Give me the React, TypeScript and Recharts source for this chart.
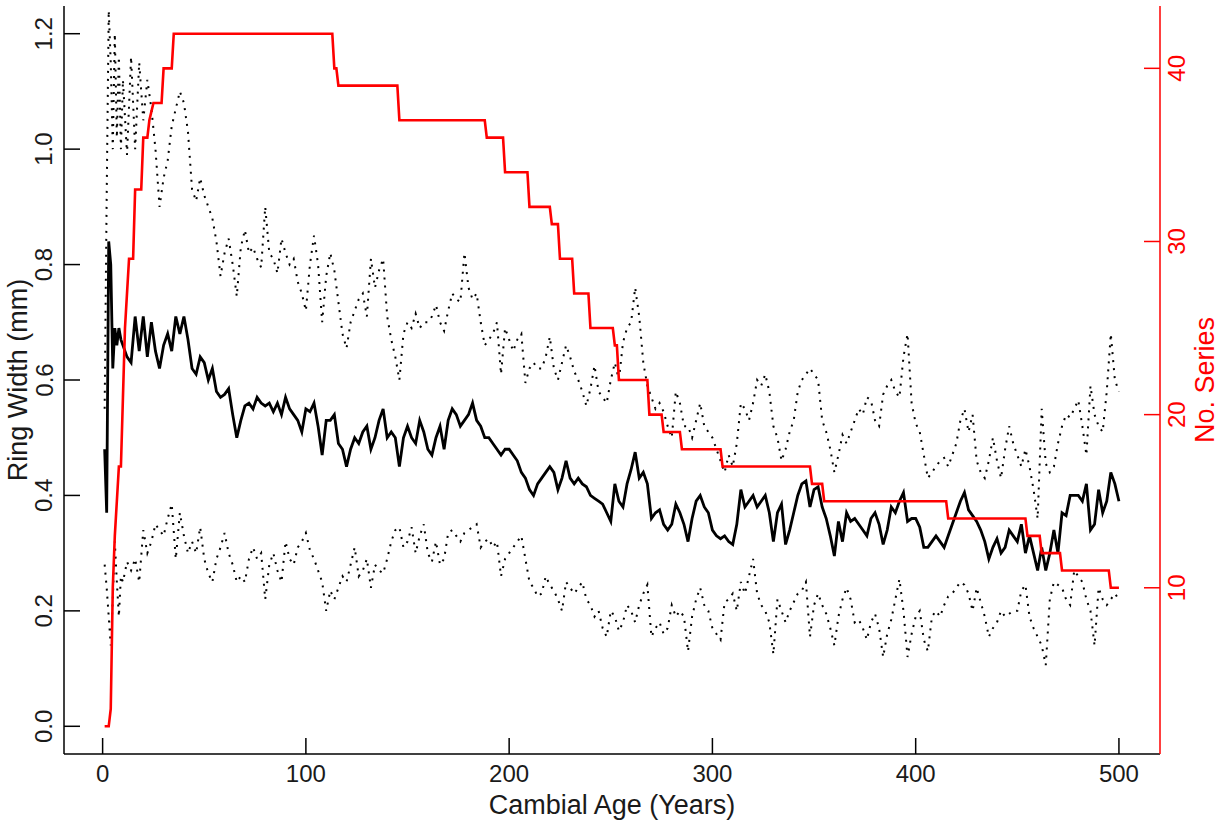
import { LineChart, Line, XAxis, YAxis } from 'recharts';

const ages = [
  1, 2, 3, 4, 5, 6, 7, 8, 9, 10,
  12, 14, 16, 18, 20, 22, 24, 26, 28, 30,
  32, 34, 36, 38, 40, 42, 44, 46, 48, 50,
  52, 54, 56, 58, 60, 62, 64, 66, 68, 70,
  72, 74, 76, 78, 80, 82, 84, 86, 88, 90,
  92, 94, 96, 98, 100, 102, 104, 106, 108, 110,
  112, 114, 116, 118, 120, 122, 124, 126, 128, 130,
  132, 134, 136, 138, 140, 142, 144, 146, 148, 150,
  152, 154, 156, 158, 160, 162, 164, 166, 168, 170,
  172, 174, 176, 178, 180, 182, 184, 186, 188, 190,
  192, 194, 196, 198, 200, 202, 204, 206, 208, 210,
  212, 214, 216, 218, 220, 222, 224, 226, 228, 230,
  232, 234, 236, 238, 240, 242, 244, 246, 248, 250,
  252, 254, 256, 258, 260, 262, 264, 266, 268, 270,
  272, 274, 276, 278, 280, 282, 284, 286, 288, 290,
  292, 294, 296, 298, 300, 302, 304, 306, 308, 310,
  312, 314, 316, 318, 320, 322, 324, 326, 328, 330,
  332, 334, 336, 338, 340, 342, 344, 346, 348, 350,
  352, 354, 356, 358, 360, 362, 364, 366, 368, 370,
  372, 374, 376, 378, 380, 382, 384, 386, 388, 390,
  392, 394, 396, 398, 400, 402, 404, 406, 408, 410,
  412, 414, 416, 418, 420, 422, 424, 426, 428, 430,
  432, 434, 436, 438, 440, 442, 444, 446, 448, 450,
  452, 454, 456, 458, 460, 462, 464, 466, 468, 470,
  472, 474, 476, 478, 480, 482, 484, 486, 488, 490,
  492, 494, 496, 498, 500,
];

// mean ring width (mm)
const meanWidth = [
  0.48, 0.37, 0.84, 0.80, 0.62, 0.69, 0.66, 0.69, 0.67, 0.66,
  0.64, 0.63, 0.71, 0.65, 0.71, 0.64, 0.70, 0.65, 0.62, 0.66,
  0.68, 0.65, 0.71, 0.68, 0.71, 0.67, 0.62, 0.61, 0.64, 0.63,
  0.60, 0.62, 0.58, 0.57, 0.575, 0.585, 0.54, 0.50, 0.53, 0.555,
  0.56, 0.55, 0.57, 0.56, 0.555, 0.56, 0.545, 0.56, 0.54, 0.57,
  0.55, 0.54, 0.53, 0.51, 0.55, 0.545, 0.56, 0.52, 0.47, 0.53,
  0.53, 0.54, 0.49, 0.48, 0.45, 0.48, 0.50, 0.49, 0.51, 0.52,
  0.48, 0.50, 0.53, 0.55, 0.50, 0.51, 0.50, 0.45, 0.50, 0.52,
  0.50, 0.49, 0.53, 0.51, 0.48, 0.47, 0.50, 0.52, 0.48, 0.53,
  0.55, 0.54, 0.52, 0.53, 0.54, 0.56, 0.53, 0.52, 0.50, 0.50,
  0.49, 0.48, 0.47, 0.48, 0.48, 0.47, 0.46, 0.44, 0.43, 0.41,
  0.40, 0.42, 0.43, 0.44, 0.45, 0.44, 0.41, 0.43, 0.46, 0.43,
  0.42, 0.43, 0.42, 0.415, 0.40, 0.395, 0.39, 0.385, 0.37, 0.355,
  0.42, 0.39, 0.38, 0.42, 0.445, 0.475, 0.43, 0.44, 0.42, 0.36,
  0.37, 0.375, 0.35, 0.34, 0.35, 0.385, 0.37, 0.35, 0.32, 0.36,
  0.39, 0.40, 0.38, 0.37, 0.34, 0.33, 0.325, 0.33, 0.32, 0.315,
  0.35, 0.41, 0.38, 0.39, 0.40, 0.38, 0.39, 0.40, 0.37, 0.32,
  0.37, 0.385, 0.315, 0.34, 0.37, 0.40, 0.42, 0.425, 0.38, 0.41,
  0.415, 0.38, 0.36, 0.33, 0.295, 0.355, 0.32, 0.37, 0.355, 0.36,
  0.35, 0.34, 0.33, 0.36, 0.37, 0.35, 0.315, 0.34, 0.38, 0.37,
  0.39, 0.405, 0.355, 0.36, 0.36, 0.345, 0.31, 0.31, 0.32, 0.33,
  0.32, 0.31, 0.33, 0.35, 0.37, 0.39, 0.405, 0.375, 0.365, 0.355,
  0.34, 0.32, 0.29, 0.31, 0.325, 0.30, 0.31, 0.34, 0.33, 0.32,
  0.35, 0.30, 0.33, 0.30, 0.27, 0.31, 0.27, 0.30, 0.34, 0.30,
  0.37, 0.365, 0.40, 0.40, 0.40, 0.39, 0.42, 0.34, 0.35, 0.41,
  0.37, 0.39, 0.44, 0.42, 0.39,
];

// upper dotted band (mm)
const upperWidth = [
  0.55, 0.92, 1.24, 1.15, 1.00, 1.20, 1.02, 1.16, 1.00, 1.12,
  0.99, 1.16, 1.00, 1.15, 1.05, 1.12, 1.07, 1.00, 0.90, 0.95,
  0.98, 1.04, 1.07, 1.10, 1.08, 1.03, 0.93, 0.91, 0.95, 0.92,
  0.90, 0.88, 0.84, 0.78, 0.82, 0.845, 0.80, 0.745, 0.83, 0.86,
  0.82, 0.83, 0.81, 0.795, 0.90, 0.82, 0.81, 0.785, 0.845, 0.82,
  0.80, 0.81, 0.77, 0.75, 0.72, 0.80, 0.85, 0.80, 0.70, 0.78,
  0.82, 0.79, 0.735, 0.68, 0.655, 0.70, 0.72, 0.74, 0.75, 0.71,
  0.81, 0.76, 0.79, 0.81, 0.71, 0.67, 0.64, 0.60, 0.68, 0.70,
  0.69, 0.715, 0.69, 0.70, 0.70, 0.71, 0.73, 0.70, 0.685, 0.72,
  0.75, 0.74, 0.735, 0.82, 0.76, 0.74, 0.75, 0.70, 0.66, 0.67,
  0.68, 0.70, 0.61, 0.69, 0.67, 0.65, 0.67, 0.68, 0.595, 0.62,
  0.63, 0.62, 0.62, 0.64, 0.675, 0.62, 0.60, 0.63, 0.66, 0.64,
  0.615, 0.60, 0.58, 0.555, 0.585, 0.625, 0.58, 0.57, 0.56, 0.60,
  0.63, 0.60, 0.665, 0.69, 0.70, 0.76, 0.71, 0.63, 0.59, 0.57,
  0.55, 0.56, 0.545, 0.52, 0.50, 0.58, 0.56, 0.52, 0.52, 0.50,
  0.53, 0.56, 0.52, 0.51, 0.50, 0.48, 0.46, 0.44, 0.47, 0.45,
  0.49, 0.56, 0.55, 0.53, 0.56, 0.60, 0.59, 0.61, 0.58, 0.52,
  0.50, 0.46, 0.48, 0.51, 0.53, 0.58, 0.60, 0.61, 0.62, 0.61,
  0.60, 0.53, 0.51, 0.48, 0.44, 0.47, 0.505, 0.49, 0.51, 0.53,
  0.55, 0.54, 0.57, 0.565, 0.53, 0.52, 0.575, 0.59, 0.60, 0.58,
  0.57, 0.64, 0.68, 0.56, 0.525, 0.51, 0.47, 0.43, 0.44, 0.45,
  0.46, 0.465, 0.45, 0.47, 0.49, 0.53, 0.55, 0.51, 0.54, 0.46,
  0.44, 0.43, 0.46, 0.50, 0.46, 0.43, 0.48, 0.52, 0.49, 0.47,
  0.45, 0.48, 0.45, 0.41, 0.36, 0.55, 0.455, 0.44, 0.45, 0.49,
  0.52, 0.54, 0.535, 0.55, 0.565, 0.52, 0.47, 0.59, 0.54, 0.52,
  0.51, 0.58, 0.68, 0.60, 0.58,
];

// lower dotted band (mm)
const lowerWidth = [
  0.28, 0.24, 0.19, 0.14, 0.22, 0.32, 0.25, 0.19, 0.26, 0.25,
  0.285, 0.27, 0.29, 0.25, 0.34, 0.30, 0.32, 0.35, 0.34, 0.33,
  0.36, 0.385, 0.29, 0.37, 0.33, 0.30, 0.32, 0.30, 0.345, 0.29,
  0.265, 0.25, 0.29, 0.31, 0.335, 0.30, 0.28, 0.25, 0.26, 0.25,
  0.29, 0.31, 0.29, 0.30, 0.22, 0.28, 0.30, 0.27, 0.25, 0.32,
  0.29, 0.28, 0.31, 0.32, 0.335, 0.305, 0.29, 0.27, 0.25, 0.20,
  0.235, 0.22, 0.24, 0.26, 0.25, 0.28, 0.31, 0.26, 0.27, 0.29,
  0.24, 0.28, 0.27, 0.265, 0.29, 0.32, 0.34, 0.345, 0.31, 0.32,
  0.345, 0.30, 0.33, 0.35, 0.30, 0.285, 0.32, 0.28, 0.29, 0.335,
  0.34, 0.33, 0.32, 0.335, 0.34, 0.345, 0.35, 0.31, 0.32, 0.325,
  0.31, 0.32, 0.26, 0.29, 0.30, 0.31, 0.32, 0.33, 0.29, 0.25,
  0.24, 0.225, 0.23, 0.26, 0.245, 0.235, 0.22, 0.20, 0.25, 0.24,
  0.23, 0.24, 0.25, 0.22, 0.21, 0.19, 0.20, 0.17, 0.155, 0.20,
  0.19, 0.165, 0.18, 0.21, 0.20, 0.18, 0.21, 0.23, 0.245, 0.155,
  0.17, 0.18, 0.16, 0.17, 0.21, 0.19, 0.20, 0.19, 0.13, 0.19,
  0.22, 0.24, 0.21, 0.20, 0.17, 0.16, 0.15, 0.215, 0.22, 0.23,
  0.20, 0.25, 0.23, 0.26, 0.29, 0.23, 0.21, 0.20, 0.18, 0.125,
  0.22, 0.20, 0.18, 0.20, 0.215, 0.23, 0.235, 0.25, 0.155, 0.21,
  0.23, 0.21, 0.195, 0.17, 0.14, 0.19, 0.22, 0.24, 0.22, 0.18,
  0.185, 0.17, 0.15, 0.18, 0.195, 0.17, 0.12, 0.16, 0.185, 0.22,
  0.255, 0.20, 0.12, 0.16, 0.19, 0.20, 0.15, 0.13, 0.19, 0.20,
  0.19, 0.21, 0.225, 0.23, 0.24, 0.25, 0.245, 0.23, 0.20, 0.24,
  0.215, 0.19, 0.155, 0.17, 0.18, 0.20, 0.19, 0.195, 0.20, 0.20,
  0.235, 0.245, 0.19, 0.17, 0.155, 0.14, 0.106, 0.22, 0.25, 0.245,
  0.24, 0.22, 0.21, 0.27, 0.26, 0.25, 0.22, 0.20, 0.14, 0.24,
  0.22, 0.21, 0.22, 0.23, 0.22,
];

// sample depth: vertices of the red line (age, no. of series)
const depthAges = [
  1, 3, 4, 5, 6, 7, 8, 9, 10, 11, 12, 13, 15, 16, 19, 20, 22, 23, 25, 29,
  30, 34, 35, 113, 114, 115, 116, 145, 146, 188, 189, 197, 198, 209, 210, 220,
  221, 224, 225, 231, 232, 239, 240, 251, 252, 253, 254, 268, 269, 275, 276,
  284, 285, 304, 305, 348, 349, 354, 355, 415, 416, 454, 455, 461, 462, 471,
  472, 495, 496, 500,
];
const depthCounts = [
  2, 2, 3, 10, 13, 15, 17, 17, 21, 25, 27, 29, 29, 33, 33, 36, 36, 37, 38, 38,
  40, 40, 42, 42, 40, 40, 39, 39, 37, 37, 36, 36, 34, 34, 32, 32,
  31, 31, 29, 29, 27, 27, 25, 25, 24, 24, 22, 22, 20, 20, 19,
  19, 18, 18, 17, 17, 16, 16, 15, 15, 14, 14, 13, 13, 12, 12,
  11, 11, 10, 10,
];

const ageTicks = [0, 100, 200, 300, 400, 500];
const widthTicks = [0, 0.2, 0.4, 0.6, 0.8, 1.0, 1.2];
const countTicks = [10, 20, 30, 40];

const rows = ages.map((age, i) => ({
  age,
  mean: meanWidth[i],
  upper: upperWidth[i],
  lower: lowerWidth[i],
}));
const depthRows = depthAges.map((age, i) => ({ age, n: depthCounts[i] }));

const W = 1221;
const H = 821;
const LEFT = 64;
const RIGHT = 1160;
const TOP = 6;
const BOTTOM = 754;
const TICK = 16;
const RED = '#ff0000';
const INK = '#1a1a1a';
const FONT = '"Liberation Sans", Arial, Helvetica, sans-serif';
const TICK_FS = 24;
const TITLE_FS = 27;

function BottomTick({ x, payload }: any) {
  return (
    <g>
      <line x1={x} x2={x} y1={BOTTOM} y2={BOTTOM - TICK} stroke="#000" strokeWidth={1.5} />
      <text x={x} y={BOTTOM + 19} textAnchor="middle" dominantBaseline="central"
        fontSize={TICK_FS} fontFamily={FONT} fill={INK}>{payload.value}</text>
    </g>
  );
}

function LeftTick({ y, payload }: any) {
  const tx = 44;
  return (
    <g>
      <line x1={LEFT} x2={LEFT + TICK} y1={y} y2={y} stroke="#000" strokeWidth={1.5} />
      <text x={tx} y={y} transform={`rotate(-90 ${tx} ${y})`} textAnchor="middle"
        dominantBaseline="central" fontSize={TICK_FS} fontFamily={FONT} fill={INK}>
        {Number(payload.value).toFixed(1)}
      </text>
    </g>
  );
}

function RightTick({ y, payload }: any) {
  const tx = 1177;
  return (
    <g>
      <line x1={RIGHT - TICK} x2={RIGHT} y1={y} y2={y} stroke={RED} strokeWidth={1.5} />
      <text x={tx} y={y} transform={`rotate(-90 ${tx} ${y})`} textAnchor="middle"
        dominantBaseline="central" fontSize={TICK_FS} fontFamily={FONT} fill={RED}>
        {payload.value}
      </text>
    </g>
  );
}

function Title({ x, y, angle = 0, color = INK, text }: any) {
  return (
    <text x={x} y={y} transform={angle ? `rotate(${angle} ${x} ${y})` : undefined}
      textAnchor="middle" dominantBaseline="central" fontSize={TITLE_FS} fontFamily={FONT} fill={color}>
      {text}
    </text>
  );
}

export default function App() {
  const midY = (TOP + BOTTOM) / 2;
  return (
    <div style={{ position: 'absolute', left: 0, top: 0, width: W, height: H, background: '#fff' }}>
      <LineChart width={W} height={H} data={rows} margin={{ top: TOP, right: 0, bottom: 0, left: 0 }}>
        <XAxis
          dataKey="age"
          type="number"
          domain={[-19, 520.2]}
          allowDataOverflow
          ticks={ageTicks}
          interval={0}
          height={H - BOTTOM}
          tickLine={false}
          tickSize={0}
          axisLine={{ stroke: '#000', strokeWidth: 1.5 }}
          tick={<BottomTick />}
          label={() => <Title x={(LEFT + RIGHT) / 2} y={BOTTOM + 51} text="Cambial Age (Years)" />}
        />
        <XAxis
          xAxisId="top"
          orientation="top"
          dataKey="age"
          type="number"
          domain={[-19, 520.2]}
          allowDataOverflow
          height={0}
          tick={false}
          tickLine={false}
          axisLine={{ stroke: '#000', strokeWidth: 1.5 }}
        />
        <YAxis
          yAxisId="left"
          domain={[-0.048, 1.248]}
          allowDataOverflow
          ticks={widthTicks}
          interval={0}
          width={LEFT}
          tickLine={false}
          tickSize={0}
          axisLine={{ stroke: '#000', strokeWidth: 1.5 }}
          tick={<LeftTick />}
          label={() => <Title x={18} y={midY} angle={-90} text="Ring Width (mm)" />}
        />
        <YAxis
          yAxisId="right"
          orientation="right"
          domain={[0.4, 43.6]}
          allowDataOverflow
          ticks={countTicks}
          interval={0}
          width={W - RIGHT}
          tickLine={false}
          tickSize={0}
          axisLine={{ stroke: RED, strokeWidth: 1.5 }}
          tick={<RightTick />}
          label={() => <Title x={1205} y={midY} angle={-90} color={RED} text="No. Series" />}
        />
        <Line yAxisId="left" dataKey="upper" type="linear" stroke="#000" strokeWidth={2}
          strokeDasharray="2 6" dot={false} activeDot={false} isAnimationActive={false} />
        <Line yAxisId="left" dataKey="lower" type="linear" stroke="#000" strokeWidth={2}
          strokeDasharray="2 6" dot={false} activeDot={false} isAnimationActive={false} />
        <Line yAxisId="left" dataKey="mean" type="linear" stroke="#000" strokeWidth={2.8}
          dot={false} activeDot={false} isAnimationActive={false} />
        <Line yAxisId="right" data={depthRows} dataKey="n" type="linear" stroke={RED} strokeWidth={2.6}
          dot={false} activeDot={false} isAnimationActive={false} />
      </LineChart>
    </div>
  );
}
